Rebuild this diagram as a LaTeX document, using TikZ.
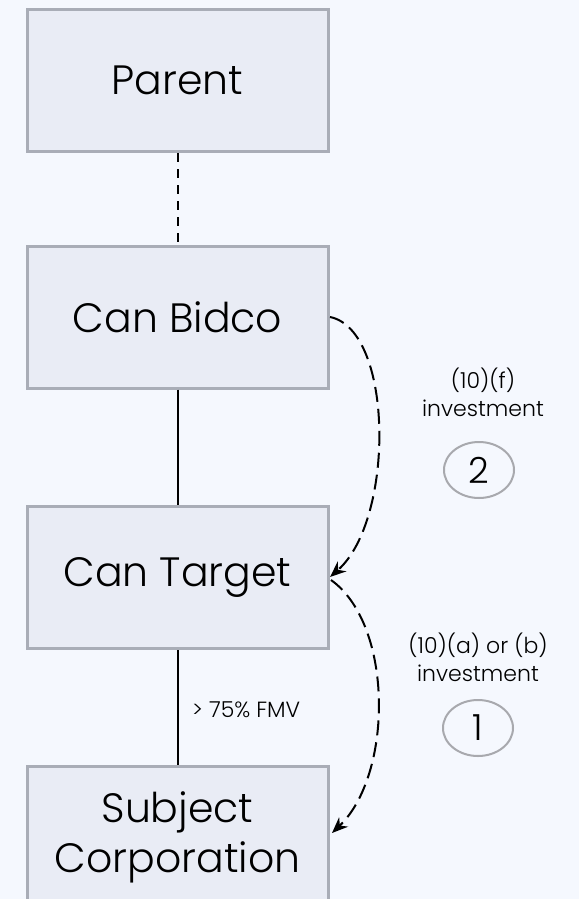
\documentclass[tikz,border=0pt]{standalone}
\usepackage{fontspec}
\setmainfont{Poppins Light}
\usetikzlibrary{arrows.meta,shapes.geometric}
\definecolor{bg}{HTML}{F5F8FE}
\definecolor{boxfill}{HTML}{E9ECF5}
\definecolor{boxline}{HTML}{A9ADB7}
\definecolor{circline}{HTML}{A8A9AE}
\tikzset{
  entity/.style={draw=boxline, fill=boxfill, line width=3pt, minimum width=301pt, minimum height=142pt, inner sep=0pt, font=\fontsize{41}{50}\selectfont, align=center},
  numcirc/.style={draw=circline, ellipse, line width=2pt, minimum width=70pt, minimum height=56pt, inner sep=0pt, font=\fontsize{36}{40}\selectfont},
  lbl/.style={font=\fontsize{22}{28}\selectfont, align=center, inner sep=0pt},
  flow/.style={dash pattern=on 15pt off 7pt, line width=2pt, -{Stealth[length=16pt,width=13pt]}},
}
\begin{document}
\begin{tikzpicture}[x=1pt,y=-1pt]
\fill[bg] (0,0) rectangle (579,899);
\useasboundingbox (0,0) rectangle (579,899);
\clip (0,0) rectangle (579,899);
\node[entity] (parent) at (177.5,80.5) {Parent};
\node[entity] (bidco) at (177.5,317) {Can Bidco};
\node[entity] (target) at (177.5,577.5) {Can Target};
\node[entity] (subject) at (177.5,837) {Subject\\Corporation};
\draw[dash pattern=on 9pt off 7pt, line width=2pt] (parent.south) -- (bidco.north);
\draw[line width=2pt] (bidco.south) -- (target.north);
\draw[line width=2pt] (target.south) -- (subject.north);
\node[lbl, anchor=west] (fmv) at (192,710) {> 75\% FMV};
\coordinate (b1) at (330,317);
\coordinate (t1) at (330,577);
\coordinate (t2) at (331,580);
\coordinate (s1) at (332,833);
\draw[flow] (b1) .. controls (394,330) and (395,520) .. (t1);
\draw[flow] (t2) .. controls (394,625) and (393,775) .. (s1);
\node[lbl] (l2) at (483,392) {(10)(f)\\investment};
\node[numcirc] (c2) at (479,470) {2};
\node[lbl] (l1) at (478,657) {(10)(a) or (b)\\investment};
\node[numcirc] (c1) at (478,728) {1};
\end{tikzpicture}
\end{document}
